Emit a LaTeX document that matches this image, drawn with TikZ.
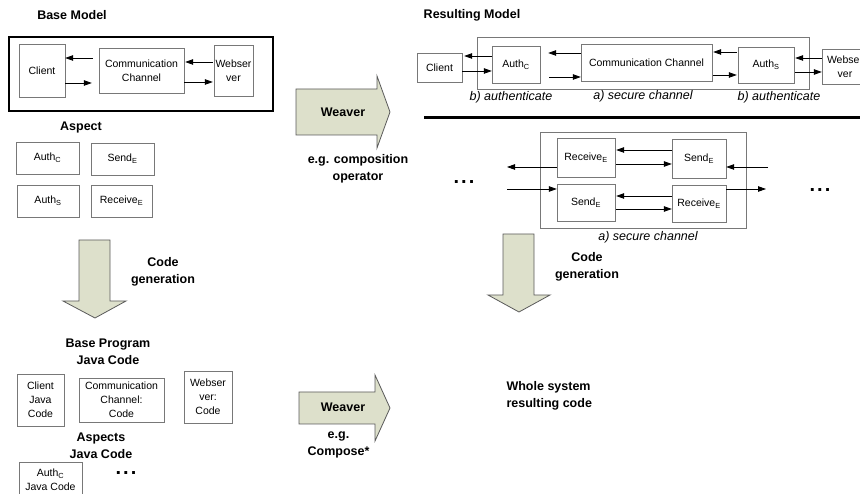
\documentclass[tikz,border=0pt]{standalone}
\usepackage{fontspec}
\setmainfont{Liberation Sans}
\usetikzlibrary{arrows.meta}
\definecolor{boxgray}{RGB}{120,120,120}
\definecolor{weavefill}{RGB}{221,224,203}
\definecolor{weavedraw}{RGB}{90,90,90}
\newcommand{\ellipdots}{.\hspace{2pt}.\hspace{2pt}.}
\begin{document}
\begin{tikzpicture}[x=1pt,y=-1pt,
    box/.style={draw=boxgray,fill=white,inner sep=1pt,align=center,font=\fontsize{10.5}{14}\selectfont},
    heading/.style={font=\bfseries\fontsize{12.5}{17}\selectfont,align=center},
    tag/.style={font=\itshape\fontsize{12.5}{15}\selectfont},
    ellip/.style={font=\bfseries\fontsize{20}{20}\selectfont,inner sep=0pt},
    link/.style={-{Triangle[length=8pt,width=5.5pt]},line width=0.8pt},
    fat/.style={draw=weavedraw,fill=weavefill,line width=0.8pt,line join=miter}]
    \useasboundingbox (0,0) rectangle (860,494);
    % base model
    \node[heading] (basetitle) at (72,15) {Base Model};
    \draw[line width=1.6pt] (9,37) rectangle (273,111);
    \node[box,minimum width=46pt,minimum height=53pt] (client) at (42,70.5) {Client};
    \node[box,minimum width=85pt,minimum height=45pt] (comm) at (141.5,70.5) {Communication\\Channel};
    \node[box,minimum width=39pt,minimum height=51pt] (web) at (233.5,70.5) {Webser\\ver};
    \draw[link,shorten <=6pt] (comm.west |- 0,58) -- (client.east |- 0,58);
    \draw[link,shorten >=7pt] (client.east |- 0,83) -- (comm.west |- 0,83);
    \draw[link,shorten <=1pt,shorten >=1pt] (web.west |- 0,62) -- (comm.east |- 0,62);
    \draw[link,shorten >=1pt] (comm.east |- 0,82) -- (web.west |- 0,82);
    % aspect
    \node[heading] (aspecttitle) at (81,128) {Aspect};
    \node[box,minimum width=63pt,minimum height=32pt] (authc) at (47.5,158) {Auth\textsubscript{C}};
    \node[box,minimum width=63pt,minimum height=32pt] (sende) at (122.5,159) {Send\textsubscript{E}};
    \node[box,minimum width=62pt,minimum height=32pt] (auths) at (48,201) {Auth\textsubscript{S}};
    \node[box,minimum width=61pt,minimum height=32pt] (receivee) at (121.5,201) {Receive\textsubscript{E}};
    \draw[fat] (79,240) -- (110,240) -- (110,301) -- (126,301) -- (95,318) -- (63,301) -- (79,301) -- cycle;
    \node[heading] (gen1) at (163,271.5) {Code\\generation};
    % base program
    \node[heading] (progtitle) at (108,352) {Base Program\\Java Code};
    \node[box,minimum width=47pt,minimum height=52pt] (clientcode) at (40.5,400) {Client\\Java\\Code};
    \node[box,minimum width=85pt,minimum height=44pt] (commcode) at (121.5,400) {Communication\\Channel:\\Code};
    \node[box,minimum width=48pt,minimum height=52pt] (webcode) at (208,397) {Webser\\ver:\\Code};
    \node[heading] (aspcodetitle) at (101,446) {Aspects\\Java Code};
    \node[box,minimum width=63pt,minimum height=36pt] (authccode) at (50.5,480) {Auth\textsubscript{C}\\Java Code};
    \node[ellip] (dots1) at (126,473) {\ellipdots};
    % weavers
    \draw[fat] (296,89) -- (377,89) -- (377,76) -- (390,112) -- (377,148) -- (377,135) -- (296,135) -- cycle;
    \node[heading] (weave1) at (343,112) {Weaver};
    \node[heading] (eg1) at (358,168.5) {e.g. composition\\operator};
    \draw[fat] (299,392) -- (375,392) -- (375,375) -- (390,408) -- (375,441) -- (375,424) -- (299,424) -- cycle;
    \node[heading] (weave2) at (343,407) {Weaver};
    \node[heading] (eg2) at (338.5,445) {e.g.\\Compose*};
    % resulting model
    \node[heading] (restitle) at (472,15) {Resulting Model};
    \draw[draw=boxgray] (477,37) rectangle (809,89);
    \node[box,minimum width=45pt,minimum height=29pt] (rclient) at (439.5,67.5) {Client};
    \node[box,minimum width=48pt,minimum height=37pt] (rauthc) at (516,64.5) {Auth\textsubscript{C}};
    \node[box,minimum width=131pt,minimum height=37pt] (rcomm) at (646.5,62.5) {Communication Channel};
    \node[box,minimum width=56pt,minimum height=36pt] (rauths) at (766,65) {Auth\textsubscript{S}};
    \node[box,minimum width=46pt,minimum height=35pt] (rweb) at (845,66.5) {Webser\\ver};
    \draw[link,shorten >=2pt] (rauthc.west |- 0,56) -- (rclient.east |- 0,56);
    \draw[link] (rclient.east |- 0,71) -- (rauthc.west |- 0,71);
    \draw[link,shorten >=8pt] (rcomm.west |- 0,53) -- (rauthc.east |- 0,53);
    \draw[link,shorten <=9pt] (rauthc.east |- 0,77) -- (rcomm.west |- 0,77);
    \draw[link,shorten <=1pt,shorten >=1pt] (rauths.west |- 0,52) -- (rcomm.east |- 0,52);
    \draw[link,shorten <=1pt,shorten >=1pt] (rcomm.east |- 0,75) -- (rauths.west |- 0,75);
    \draw[link,shorten >=1pt] (rweb.west |- 0,58) -- (rauths.east |- 0,58);
    \draw[link,shorten <=1pt] (rauths.east |- 0,72) -- (rweb.west |- 0,72);
    \node[tag] (authlbl1) at (511,97) {b) authenticate};
    \node[tag] (seclbl1) at (643,96) {a) secure channel};
    \node[tag] (authlbl2) at (779,97) {b) authenticate};
    \draw[line width=3pt] (424,118) -- (860,118);
    % secure channel
    \draw[draw=boxgray] (540,132) rectangle (746,228);
    \node[box,minimum width=58pt,minimum height=39pt] (srectop) at (586,157.5) {Receive\textsubscript{E}};
    \node[box,minimum width=54pt,minimum height=39pt] (ssendtop) at (699,158.5) {Send\textsubscript{E}};
    \node[box,minimum width=58pt,minimum height=37pt] (ssendbot) at (586,202.5) {Send\textsubscript{E}};
    \node[box,minimum width=54pt,minimum height=37pt] (srecbot) at (699,203.5) {Receive\textsubscript{E}};
    \coordinate (leftout) at (507,167);
    \coordinate (leftin) at (507,189);
    \coordinate (rightin) at (768,167);
    \coordinate (rightout) at (766,189);
    \draw[link,shorten >=1pt] (ssendtop.west |- 0,150) -- (srectop.east |- 0,150);
    \draw[link,shorten <=1pt] (srectop.east |- 0,164) -- (ssendtop.west |- 0,164);
    \draw[link,shorten >=1pt] (srecbot.west |- 0,196) -- (ssendbot.east |- 0,196);
    \draw[link,shorten <=1pt] (ssendbot.east |- 0,209) -- (srecbot.west |- 0,209);
    \draw[link] (srectop.west |- leftout) -- (leftout);
    \draw[link] (leftin) -- (ssendbot.west |- leftin);
    \draw[link] (rightin) -- (ssendtop.east |- rightin);
    \draw[link] (srecbot.east |- rightout) -- (rightout);
    \node[ellip] (dots2) at (464,182) {\ellipdots};
    \node[ellip] (dots3) at (820,190) {\ellipdots};
    \node[tag] (seclbl2) at (648,237) {a) secure channel};
    \draw[fat] (503,234) -- (534,234) -- (534,295) -- (550,295) -- (519,312) -- (488,295) -- (503,295) -- cycle;
    \node[heading] (gen2) at (587,267) {Code\\generation};
    \node[heading,align=left,anchor=west] (whole) at (503,396) {Whole system\\resulting code};
\end{tikzpicture}
\end{document}
